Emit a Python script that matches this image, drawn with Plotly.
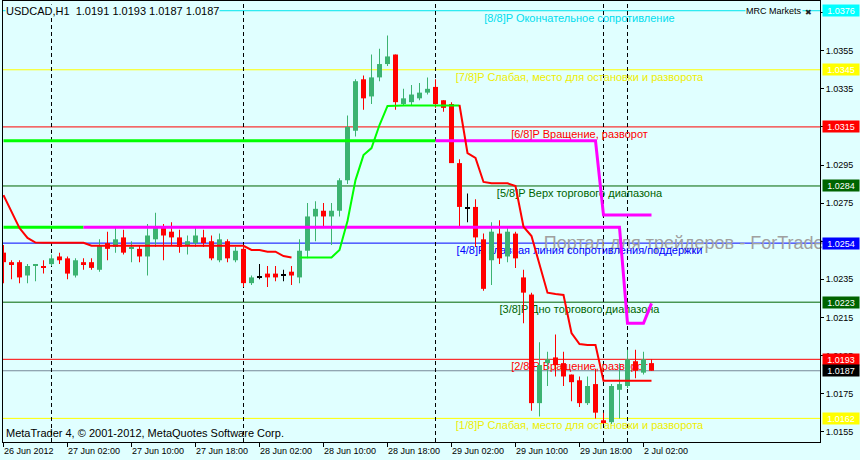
import plotly.graph_objects as go

# ---------------- data ----------------
bar_index = list(range(82))  # H1 bars from 26 Jun 2012 18:00 to 2 Jul 2012 03:00

open_p = [1.0249, 1.0244, 1.0244, 1.0237, 1.0242, 1.0242, 1.0243, 1.0247, 1.0246, 1.0237,
          1.0244, 1.0244, 1.0240, 1.0254, 1.0252, 1.0257, 1.0251, 1.0251, 1.0247, 1.0256,
          1.0263, 1.0260, 1.0257, 1.0253, 1.0254, 1.0257, 1.0255, 1.0245, 1.0255, 1.0245,
          1.0251, 1.0233, 1.0236, 1.0238, 1.0238, 1.0237, 1.0239, 1.0236, 1.0250, 1.0268,
          1.0271, 1.0268, 1.0271, 1.0287, 1.0313, 1.0340, 1.0331, 1.0341, 1.0348, 1.0353,
          1.0327, 1.0328, 1.0330, 1.0333, 1.0336, 1.0329, 1.0327, 1.0296, 1.0272, 1.0273,
          1.0256, 1.0245, 1.0259, 1.0247, 1.0259, 1.0236, 1.0227, 1.0170, 1.0191, 1.0194,
          1.0191, 1.0185, 1.0182, 1.0170, 1.0180, 1.0161, 1.0160, 1.0177, 1.0179, 1.0192,
          1.0186, 1.0191]
high_p = [1.0253, 1.0245, 1.0245, 1.0243, 1.0243, 1.0245, 1.0248, 1.0249, 1.0247, 1.0246,
          1.0246, 1.0246, 1.0256, 1.0260, 1.0263, 1.0261, 1.0255, 1.0253, 1.0264, 1.0270,
          1.0264, 1.0265, 1.0261, 1.0258, 1.0262, 1.0261, 1.0258, 1.0259, 1.0256, 1.0252,
          1.0252, 1.0237, 1.0243, 1.0242, 1.0242, 1.0240, 1.0242, 1.0256, 1.0275, 1.0276,
          1.0275, 1.0275, 1.0288, 1.0321, 1.0340, 1.0342, 1.0353, 1.0356, 1.0363, 1.0353,
          1.0335, 1.0337, 1.0338, 1.0341, 1.0340, 1.0329, 1.0328, 1.0298, 1.0280, 1.0277,
          1.0259, 1.0265, 1.0266, 1.0263, 1.0260, 1.0240, 1.0228, 1.0202, 1.0197, 1.0206,
          1.0197, 1.0185, 1.0184, 1.0184, 1.0188, 1.0165, 1.0180, 1.0191, 1.0198, 1.0198,
          1.0197, 1.0193]
low_p = [1.0233, 1.0235, 1.0233, 1.0233, 1.0234, 1.0238, 1.0242, 1.0243, 1.0235, 1.0236,
         1.0240, 1.0240, 1.0239, 1.0245, 1.0249, 1.0248, 1.0244, 1.0244, 1.0237, 1.0252,
         1.0245, 1.0253, 1.0249, 1.0248, 1.0252, 1.0252, 1.0245, 1.0244, 1.0244, 1.0244,
         1.0231, 1.0232, 1.0235, 1.0231, 1.0234, 1.0234, 1.0232, 1.0233, 1.0246, 1.0255,
         1.0263, 1.0253, 1.0268, 1.0285, 1.0310, 1.0324, 1.0327, 1.0339, 1.0347, 1.0324,
         1.0326, 1.0326, 1.0329, 1.0332, 1.0325, 1.0323, 1.0296, 1.0263, 1.0265, 1.0252,
         1.0229, 1.0232, 1.0243, 1.0244, 1.0241, 1.0212, 1.0166, 1.0163, 1.0179, 1.0184,
         1.0179, 1.0171, 1.0168, 1.0169, 1.0162, 1.0159, 1.0159, 1.0162, 1.0178, 1.0183,
         1.0185, 1.0187]
close_p = [1.0244, 1.0243, 1.0236, 1.0242, 1.0243, 1.0241, 1.0246, 1.0245, 1.0238, 1.0245,
           1.0243, 1.0241, 1.0253, 1.0251, 1.0256, 1.0249, 1.0252, 1.0247, 1.0258, 1.0262,
           1.0258, 1.0257, 1.0252, 1.0255, 1.0258, 1.0254, 1.0246, 1.0256, 1.0246, 1.0250,
           1.0233, 1.0236, 1.0236, 1.0236, 1.0236, 1.0237, 1.0237, 1.0250, 1.0268, 1.0272,
           1.0268, 1.0271, 1.0287, 1.0315, 1.0339, 1.0330, 1.0341, 1.0348, 1.0352, 1.0328,
           1.0330, 1.0332, 1.0333, 1.0335, 1.0327, 1.0325, 1.0296, 1.0273, 1.0272, 1.0257,
           1.0230, 1.0260, 1.0246, 1.0260, 1.0246, 1.0228, 1.0170, 1.0190, 1.0193, 1.0190,
           1.0184, 1.0181, 1.0170, 1.0179, 1.0165, 1.0160, 1.0179, 1.0180, 1.0193, 1.0187,
           1.0193, 1.0187]

# trailing-stop style indicator (red above price, green below price)
red_trail_a = [1.02792, 1.02708, 1.02619, 1.02567, 1.02543, 1.02542, 1.02542, 1.02542, 1.02542,
               1.02542, 1.02542, 1.02526, 1.02526, 1.02526, 1.02526, 1.02526, 1.02526, 1.02526,
               1.02526, 1.02526, 1.02526, 1.02526, 1.02526, 1.02526, 1.02526, 1.02526, 1.02526,
               1.02526, 1.02526, 1.02526, 1.02526, 1.02504, 1.02504, 1.02495, 1.02495, 1.02472,
               1.02465]                                   # bars 0..36
green_trail = [1.02465, 1.02465, 1.02465, 1.02465, 1.02465, 1.02504, 1.02656, 1.02871, 1.03002,
               1.03039, 1.03160, 1.03260, 1.03262, 1.03262, 1.03262, 1.03262, 1.03262, 1.03262,
               1.03262, 1.03262, 1.03262]                 # bars 37..57
red_trail_b = [1.03265, 1.03013, 1.02987, 1.02861, 1.02854, 1.02854, 1.02854, 1.02840, 1.02626,
               1.02577, 1.02425, 1.02280, 1.02273, 1.02268, 1.02068, 1.02010, 1.02005, 1.02005,
               1.01818, 1.01818, 1.01818, 1.01818, 1.01818, 1.01818, 1.01818]  # bars 57..81

# channel lines (breakpoints: bar index, price)
upper_green_x = [0, 54]
upper_green_y = [1.03077, 1.03077]
upper_mag_x = [54, 74, 75, 81]
upper_mag_y = [1.03077, 1.03077, 1.02687, 1.02687]
lower_green_x = [0, 10]
lower_green_y = [1.02623, 1.02623]
lower_mag_x = [10, 77, 78, 80, 81]
lower_mag_y = [1.02623, 1.02623, 1.02119, 1.02119, 1.02224]

# Murrey Math levels
mm_levels = [1.0376, 1.0345, 1.0315, 1.0284, 1.0254, 1.0223, 1.0193, 1.0162]
mm_texts = ["[8/8]P Окончательное сопротивление",
            "[7/8]P Слабая, место для остановки и разворота",
            "[6/8]P Вращение, разворот",
            "[5/8]P Верх торгового диапазона",
            "[4/8]P Главная линия сопротивления/поддержки",
            "[3/8]P Дно торгового диапазона",
            "[2/8]P Вращение, разворот",
            "[1/8]P Слабая, место для остановки и разворота"]
mm_line_colors = ["#00E5EE", "#FFFF00", "#FF0000", "#006400", "#0000FF", "#006400", "#FF0000", "#FFFF00"]
mm_text_colors = ["#00DDEE", "#EEEE00", "#FF0000", "#006400", "#0000FF", "#006400", "#FF0000", "#EEEE00"]
mm_box_colors = ["#00FFFF", "#FFFF00", "#FF0000", "#006400", "#0000FF", "#006400", "#FF0000", "#FFFF00"]
bid_price = 1.0187
label_center_bar = 72

separator_bars = [6, 30, 54, 75, 78]
tick_bars = [0, 8, 16, 24, 32, 40, 48, 56, 64, 72, 80]
tick_texts = ["26 Jun 2012", "27 Jun 02:00", "27 Jun 10:00", "27 Jun 18:00", "28 Jun 02:00",
              "28 Jun 10:00", "28 Jun 18:00", "29 Jun 02:00", "29 Jun 10:00", "29 Jun 18:00",
              "2 Jul 02:00"]
price_ticks = [1.0155, 1.0175, 1.0195, 1.0215, 1.0235, 1.0255, 1.0275, 1.0295, 1.0315, 1.0335,
               1.0355, 1.0375]

# ---------------- figure ----------------
BG = "#E0FFFF"
UP, DN, DOJI = "#3CB371", "#FF0000", "#000000"
FONT = "Liberation Sans"

colors = [UP if c > o else (DN if c < o else DOJI) for o, c in zip(open_p, close_p)]
wick_len = [h - l for h, l in zip(high_p, low_p)]
body_base = [min(o, c) for o, c in zip(open_p, close_p)]
body_len = [max(abs(c - o), 0.00005) for o, c in zip(open_p, close_p)]

fig = go.Figure()
fig.add_trace(go.Bar(x=bar_index, y=wick_len, base=low_p, width=0.125,
                     marker=dict(color=colors, line=dict(width=0)), hoverinfo="skip"))
fig.add_trace(go.Bar(x=bar_index, y=body_len, base=body_base, width=0.625,
                     marker=dict(color=colors, line=dict(width=0)), hoverinfo="skip"))

def line(x, y, color, w):
    fig.add_trace(go.Scatter(x=x, y=y, mode="lines", line=dict(color=color, width=w),
                             hoverinfo="skip"))

line(upper_green_x, upper_green_y, "#00FF00", 3)
line(upper_mag_x, upper_mag_y, "#FF00FF", 3)
line(lower_green_x, lower_green_y, "#00FF00", 3)
line(lower_mag_x, lower_mag_y, "#FF00FF", 3)
line(bar_index[0:37], red_trail_a, "#FF0000", 2)
line(bar_index[37:58], green_trail, "#00FF00", 2)
line(bar_index[57:82], red_trail_b, "#FF0000", 2)

shapes = []
for lvl, col in zip(mm_levels, mm_line_colors):
    shapes.append(dict(type="line", xref="paper", x0=0, x1=1, yref="y", y0=lvl, y1=lvl,
                       line=dict(color=col, width=1), layer="below"))
shapes.append(dict(type="line", xref="paper", x0=0, x1=1, yref="y", y0=bid_price, y1=bid_price,
                   line=dict(color="#778899", width=1), layer="below"))
for s in separator_bars:
    shapes.append(dict(type="line", xref="x", x0=s, x1=s, yref="paper", y0=0, y1=1,
                       line=dict(color="black", width=1, dash="4px,3px"), layer="below"))
for lvl, txt, col in zip(mm_levels, mm_texts, mm_text_colors):
    shapes.append(dict(type="line", xref="x", x0=label_center_bar - 22, x1=label_center_bar + 22,
                       yref="y", y0=lvl, y1=lvl, line=dict(color="rgba(0,0,0,0)", width=1),
                       layer="below",
                       label=dict(text=txt, textposition="middle", yanchor="top", padding=0,
                                  font=dict(family=FONT, size=11, color=col))))
shapes.append(dict(type="line", xref="paper", x0=0.662, x1=1.3, yref="y", y0=1.0255, y1=1.0255,
                   line=dict(color="rgba(0,0,0,0)", width=1), layer="below",
                   label=dict(text="Портал для трейдеров - ForTrader.ru", textposition="start",
                              xanchor="left", yanchor="middle", padding=0,
                              font=dict(family=FONT, size=18, color="#A0A0A0"))))

annotations = []
for lvl, col in zip(mm_levels, mm_box_colors):
    annotations.append(dict(x=1, xref="paper", y=lvl, yref="y", xanchor="left", yanchor="middle",
                            xshift=1.5, text=f"{lvl:.4f}", showarrow=False, bgcolor=col,
                            width=36, height=11, borderpad=0,
                            font=dict(family=FONT, size=9, color="white")))
annotations.append(dict(x=1, xref="paper", y=bid_price, yref="y", xanchor="left", yanchor="middle",
                        xshift=1.5, text=f"{bid_price:.4f}", showarrow=False, bgcolor="black",
                        width=36, height=11, borderpad=0,
                        font=dict(family=FONT, size=9, color="white")))
for b, t in zip(tick_bars, tick_texts):
    annotations.append(dict(x=b, xref="x", y=0, yref="paper", xanchor="left", yanchor="top",
                            xshift=-2, yshift=-2, text=t, showarrow=False,
                            font=dict(family=FONT, size=9, color="black")))
annotations.append(dict(x=0, xref="paper", y=1, yref="paper", xanchor="left", yanchor="top",
                        xshift=1.5, yshift=-3, text="USDCAD,H1  1.0191 1.0193 1.0187 1.0187",
                        showarrow=False, bgcolor=BG, borderpad=0,
                        font=dict(family=FONT, size=11, color="black")))
annotations.append(dict(x=1, xref="paper", y=1, yref="paper", xanchor="right", yanchor="top",
                        xshift=-17, yshift=-4, text="MRC Markets", showarrow=False, bgcolor=BG,
                        borderpad=0, font=dict(family=FONT, size=9, color="black")))
annotations.append(dict(x=1, xref="paper", y=1, yref="paper", xanchor="right", yanchor="top",
                        xshift=-6, yshift=-5, text="✖", showarrow=False,
                        font=dict(family="DejaVu Sans", size=8, color="#202020")))
annotations.append(dict(x=0, xref="paper", y=0, yref="paper", xanchor="left", yanchor="bottom",
                        xshift=1, yshift=1,
                        text="MetaTrader 4, © 2001-2012, MetaQuotes Software Corp.",
                        showarrow=False, font=dict(family=FONT, size=11, color="black")))

fig.update_layout(width=860, height=460, margin=dict(l=3, r=40, t=1, b=18),
                  paper_bgcolor=BG, plot_bgcolor=BG, showlegend=False, barmode="overlay",
                  font=dict(family=FONT, size=9, color="black"),
                  shapes=shapes, annotations=annotations)
fig.update_xaxes(range=[-0.0625, 102.0625], showgrid=False, zeroline=False, showline=True,
                 linecolor="black", linewidth=1, mirror=True, ticks="outside", ticklen=4,
                 tickcolor="black", tickvals=tick_bars, showticklabels=False)
fig.update_yaxes(range=[1.01496, 1.03811], side="right", showgrid=False, zeroline=False,
                 showline=True, linecolor="black", linewidth=1, mirror=True, ticks="outside",
                 ticklen=3, tickcolor="black", tickvals=price_ticks, tickformat=".4f",
                 tickfont=dict(family=FONT, size=9, color="black"))

fig.write_html("out.html", config={"displayModeBar": False},
               post_script="document.body.style.margin='0';document.body.style.overflow='hidden';")
